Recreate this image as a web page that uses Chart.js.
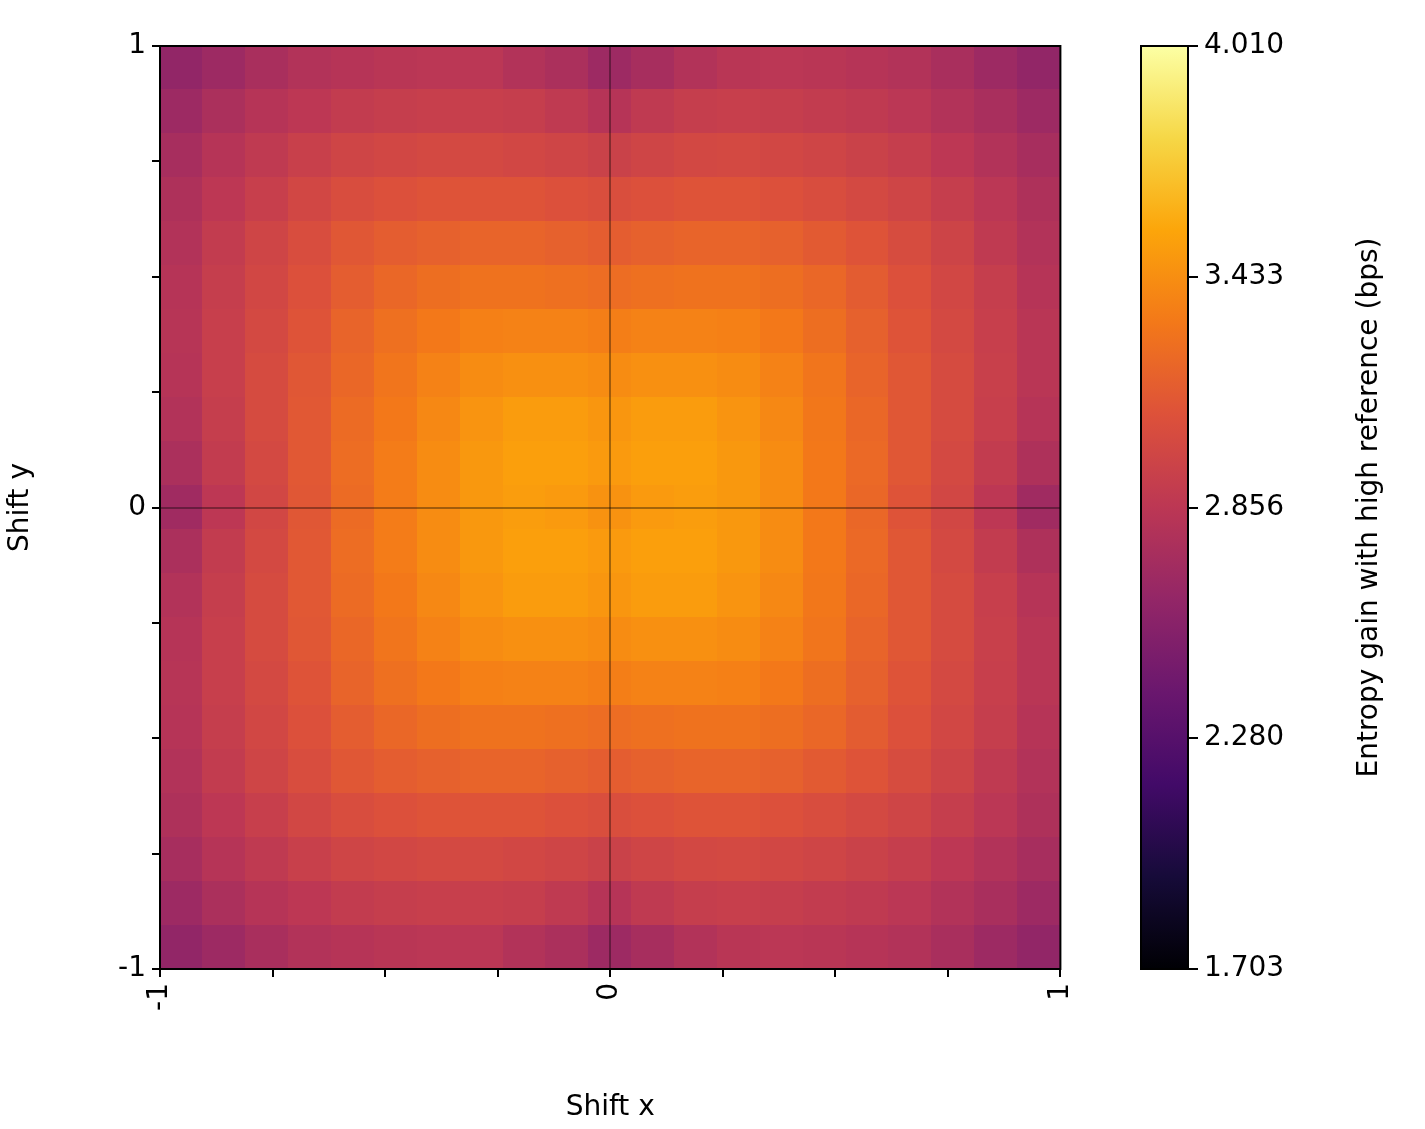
<!DOCTYPE html>
<html>
<head>
<meta charset="utf-8">
<script src="https://cdn.jsdelivr.net/npm/chart.js@4"></script>
<style>
  body { margin: 0; background: #fff; }
  #wrap { position: relative; width: 1425px; height: 1129px; }
  #main { position: absolute; left: 0; top: 0; }
  #bar { position: absolute; left: 1100px; top: 0; }
</style>
</head>
<body>
<div id="wrap">
  <canvas id="main" width="1100" height="1129"></canvas>
  <canvas id="bar" width="325" height="1129"></canvas>
</div>
<script>
const shifts = [-1, -0.9, -0.8, -0.7, -0.6, -0.5, -0.4, -0.3, -0.2, -0.1, 0, 0.1, 0.2, 0.3, 0.4, 0.5, 0.6, 0.7, 0.8, 0.9, 1];
const vmin = 1.703, vmax = 4.010;
const cbTicks = [1.703, 2.280, 2.856, 3.433, 4.010];

// rows from top (y = 1) to bottom (y = -1)
const gain = [
  [2.62, 2.68, 2.75, 2.80, 2.82, 2.84, 2.85, 2.85, 2.80, 2.76, 2.68, 2.74, 2.80, 2.84, 2.85, 2.84, 2.82, 2.80, 2.75, 2.68, 2.62],
  [2.68, 2.76, 2.82, 2.86, 2.90, 2.92, 2.93, 2.93, 2.92, 2.88, 2.82, 2.88, 2.92, 2.93, 2.92, 2.90, 2.88, 2.85, 2.80, 2.75, 2.68],
  [2.74, 2.82, 2.88, 2.94, 2.98, 3.00, 3.02, 3.02, 3.00, 2.98, 2.95, 2.98, 3.01, 3.02, 3.00, 2.98, 2.95, 2.92, 2.86, 2.80, 2.74],
  [2.78, 2.86, 2.93, 3.00, 3.05, 3.08, 3.10, 3.10, 3.10, 3.08, 3.06, 3.08, 3.10, 3.10, 3.08, 3.05, 3.02, 2.98, 2.92, 2.85, 2.78],
  [2.80, 2.90, 2.98, 3.05, 3.12, 3.16, 3.18, 3.20, 3.20, 3.18, 3.16, 3.18, 3.20, 3.20, 3.18, 3.14, 3.10, 3.04, 2.97, 2.88, 2.80],
  [2.82, 2.92, 3.00, 3.08, 3.16, 3.22, 3.26, 3.28, 3.28, 3.27, 3.25, 3.27, 3.28, 3.28, 3.26, 3.22, 3.15, 3.08, 3.00, 2.92, 2.82],
  [2.83, 2.93, 3.02, 3.10, 3.20, 3.27, 3.32, 3.36, 3.37, 3.37, 3.35, 3.37, 3.37, 3.36, 3.32, 3.26, 3.18, 3.10, 3.02, 2.93, 2.84],
  [2.82, 2.93, 3.03, 3.12, 3.22, 3.30, 3.37, 3.42, 3.44, 3.44, 3.42, 3.44, 3.44, 3.42, 3.37, 3.30, 3.20, 3.12, 3.03, 2.94, 2.84],
  [2.80, 2.92, 3.03, 3.13, 3.24, 3.32, 3.40, 3.46, 3.50, 3.50, 3.47, 3.50, 3.50, 3.46, 3.40, 3.31, 3.22, 3.12, 3.03, 2.93, 2.82],
  [2.76, 2.90, 3.02, 3.13, 3.25, 3.34, 3.42, 3.48, 3.52, 3.52, 3.49, 3.52, 3.52, 3.48, 3.42, 3.32, 3.23, 3.12, 3.02, 2.90, 2.78],
  [2.70, 2.86, 3.00, 3.12, 3.24, 3.34, 3.42, 3.48, 3.51, 3.49, 3.45, 3.49, 3.51, 3.48, 3.42, 3.32, 3.22, 3.10, 3.00, 2.86, 2.70],
  [2.76, 2.90, 3.02, 3.13, 3.25, 3.34, 3.42, 3.48, 3.52, 3.52, 3.49, 3.52, 3.52, 3.48, 3.42, 3.32, 3.23, 3.12, 3.02, 2.90, 2.78],
  [2.80, 2.92, 3.03, 3.13, 3.24, 3.32, 3.40, 3.46, 3.50, 3.50, 3.47, 3.50, 3.50, 3.46, 3.40, 3.31, 3.22, 3.12, 3.03, 2.93, 2.82],
  [2.82, 2.93, 3.03, 3.12, 3.22, 3.30, 3.37, 3.42, 3.44, 3.44, 3.42, 3.44, 3.44, 3.42, 3.37, 3.30, 3.20, 3.12, 3.03, 2.94, 2.84],
  [2.83, 2.93, 3.02, 3.10, 3.20, 3.27, 3.32, 3.36, 3.37, 3.37, 3.35, 3.37, 3.37, 3.36, 3.32, 3.26, 3.18, 3.10, 3.02, 2.93, 2.84],
  [2.82, 2.92, 3.00, 3.08, 3.16, 3.22, 3.26, 3.28, 3.28, 3.27, 3.25, 3.27, 3.28, 3.28, 3.26, 3.22, 3.15, 3.08, 3.00, 2.92, 2.82],
  [2.80, 2.90, 2.98, 3.05, 3.12, 3.16, 3.18, 3.20, 3.20, 3.18, 3.16, 3.18, 3.20, 3.20, 3.18, 3.14, 3.10, 3.04, 2.97, 2.88, 2.80],
  [2.78, 2.86, 2.93, 3.00, 3.05, 3.08, 3.10, 3.10, 3.10, 3.08, 3.06, 3.08, 3.10, 3.10, 3.08, 3.05, 3.02, 2.98, 2.92, 2.85, 2.78],
  [2.74, 2.82, 2.88, 2.94, 2.98, 3.00, 3.02, 3.02, 3.00, 2.98, 2.95, 2.98, 3.01, 3.02, 3.00, 2.98, 2.95, 2.92, 2.86, 2.80, 2.74],
  [2.68, 2.76, 2.82, 2.86, 2.90, 2.92, 2.93, 2.93, 2.92, 2.88, 2.82, 2.88, 2.92, 2.93, 2.92, 2.90, 2.88, 2.85, 2.80, 2.75, 2.68],
  [2.62, 2.68, 2.75, 2.80, 2.82, 2.84, 2.85, 2.85, 2.80, 2.76, 2.68, 2.74, 2.80, 2.84, 2.85, 2.84, 2.82, 2.80, 2.75, 2.68, 2.62]
];

const inferno = ['#000004', '#160b39', '#420a68', '#6a176e', '#932667', '#bc3754',
                 '#dd513a', '#f37819', '#fca50a', '#f6d746', '#fcffa4'];

function hex(h) { return [1, 3, 5].map(i => parseInt(h.substr(i, 2), 16)); }
function colorFor(v) {
  let t = Math.min(1, Math.max(0, (v - vmin) / (vmax - vmin))) * 10;
  const i = Math.min(9, Math.floor(t)), f = t - i;
  const a = hex(inferno[i]), b = hex(inferno[i + 1]);
  return 'rgb(' + a.map((c, k) => Math.round(c + (b[k] - c) * f)).join(',') + ')';
}

const cells = [];
gain.forEach((row, r) => row.forEach((v, c) => {
  cells.push({ x: shifts[c], y: shifts[20 - r], v: v });
}));

const font = { family: 'DejaVu Sans', size: 28 };
Chart.defaults.color = '#000';

const heatPlugin = {
  id: 'heat',
  beforeDraw(chart) {
    const ctx = chart.ctx, xs = chart.scales.x, ys = chart.scales.y;
    const half = 0.05;
    chart.data.datasets[0].data.forEach(p => {
      const x0 = xs.getPixelForValue(p.x - half), x1 = xs.getPixelForValue(p.x + half);
      const y0 = ys.getPixelForValue(p.y + half), y1 = ys.getPixelForValue(p.y - half);
      ctx.fillStyle = colorFor(p.v);
      ctx.fillRect(Math.floor(x0), Math.floor(y0), Math.ceil(x1 - x0) + 1, Math.ceil(y1 - y0) + 1);
    });
  },
  afterDraw(chart) {
    const a = chart.chartArea, ctx = chart.ctx;
    ctx.strokeStyle = '#000';
    ctx.lineWidth = 2;
    ctx.strokeRect(a.left, a.top, a.right - a.left, a.bottom - a.top);
  }
};

function tickLabel(v) { return Number.isInteger(v) ? String(v) : ''; }

new Chart(document.getElementById('main'), {
  type: 'scatter',
  data: { datasets: [{ data: cells, pointRadius: 0, pointHoverRadius: 0 }] },
  options: {
    responsive: false, animation: false,
    events: [],
    layout: { padding: { top: 46, right: 17 } },
    plugins: { legend: { display: false }, tooltip: { enabled: false } },
    scales: {
      x: {
        min: -1.05, max: 1.05,
        afterBuildTicks: s => { s.ticks = [-1, -0.75, -0.5, -0.25, 0, 0.25, 0.5, 0.75, 1].map(v => ({ value: v * 1.05 })); },
        ticks: { font: font, minRotation: 90, maxRotation: 90, padding: 6,
                 callback: v => tickLabel(Math.round(v / 1.05 * 100) / 100) },
        grid: { drawOnChartArea: true, tickLength: 8, tickColor: '#000', lineWidth: 2,
                color: c => (c.tick && Math.abs(c.tick.value) < 1e-9) ? 'rgba(0,0,0,0.35)' : 'rgba(0,0,0,0)' },
        border: { display: false },
        title: { display: true, text: 'Shift x', font: font, padding: { top: 4 } },
        afterFit: s => { s.height = 160; }
      },
      y: {
        min: -1.05, max: 1.05,
        afterBuildTicks: s => { s.ticks = [-1, -0.75, -0.5, -0.25, 0, 0.25, 0.5, 0.75, 1].map(v => ({ value: v * 1.05 })); },
        ticks: { font: font, padding: 6,
                 callback: v => tickLabel(Math.round(v / 1.05 * 100) / 100) },
        grid: { drawOnChartArea: true, tickLength: 8, tickColor: '#000', lineWidth: 2,
                color: c => (c.tick && Math.abs(c.tick.value) < 1e-9) ? 'rgba(0,0,0,0.35)' : 'rgba(0,0,0,0)' },
        border: { display: false },
        title: { display: true, text: 'Shift y', font: font, padding: { bottom: 10 } },
        afterFit: s => { s.width = 160; }
      }
    }
  },
  plugins: [heatPlugin]
});

const barPlugin = {
  id: 'colorbar',
  beforeDraw(chart) {
    const a = chart.chartArea, ctx = chart.ctx;
    const g = ctx.createLinearGradient(0, a.bottom, 0, a.top);
    inferno.forEach((c, i) => g.addColorStop(i / 10, c));
    ctx.fillStyle = g;
    ctx.fillRect(a.left, a.top, a.right - a.left, a.bottom - a.top);
  },
  afterDraw(chart) {
    const a = chart.chartArea, ctx = chart.ctx;
    ctx.strokeStyle = '#000';
    ctx.lineWidth = 2;
    ctx.strokeRect(a.left, a.top, a.right - a.left, a.bottom - a.top);
    ctx.save();
    ctx.translate(270, (a.top + a.bottom) / 2);
    ctx.rotate(-Math.PI / 2);
    ctx.font = '28px "DejaVu Sans"';
    ctx.fillStyle = '#000';
    ctx.textAlign = 'center';
    ctx.textBaseline = 'middle';
    ctx.fillText('Entropy gain with high reference (bps)', 0, 0);
    ctx.restore();
  }
};

new Chart(document.getElementById('bar'), {
  type: 'scatter',
  data: { datasets: [{ data: [], yAxisID: 'c' }] },
  options: {
    responsive: false, animation: false,
    events: [],
    layout: { padding: { top: 46, bottom: 160, left: 41 } },
    plugins: { legend: { display: false }, tooltip: { enabled: false } },
    scales: {
      x: { display: false, min: 0, max: 1 },
      c: {
        position: 'right', min: vmin, max: vmax,
        afterBuildTicks: s => { s.ticks = cbTicks.map(v => ({ value: v })); },
        ticks: { font: font, padding: 6, callback: v => v.toFixed(3) },
        grid: { drawOnChartArea: false, tickLength: 10, tickColor: '#000', lineWidth: 2 },
        border: { display: false },
        afterFit: s => { s.width = 237; }
      }
    }
  },
  plugins: [barPlugin]
});
</script>
</body>
</html>
